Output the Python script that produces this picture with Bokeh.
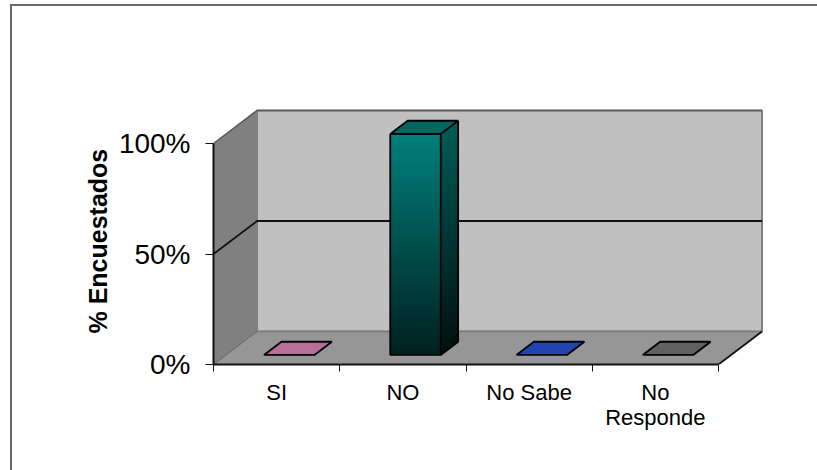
from bokeh.embed import file_html
from bokeh.models import FixedTicker, InlineStyleSheet, Range1d, Title
from bokeh.plotting import figure
from bokeh.resources import INLINE

categories = ["SI", "NO", "No Sabe", "No\nResponde"]
values = [0, 100, 0, 0]
top_colors = ["#B56F98", "#006660", "#2244B0", "#606060"]
y_ticks = [0, 50, 100]
y_title = "% Encuestados"

# Oblique projection of the chart box, in axis units
DEPTH_X = 0.3446
DEPTH_Y = 14.93
BAR_WIDTH = 0.40
BAR_FRONT = 0.29
BAR_BACK = 0.69
X_END = 4.0
Y_END = 100.0
PX_X = 126.25
PX_Y = 2.21

FRONT_TOP = (0, 128, 124)
FRONT_BOTTOM = (0, 32, 32)
SIDE_TOP = (0, 92, 88)
SIDE_BOTTOM = (0, 18, 18)


def hexcolor(a, b, t):
    return "#%02x%02x%02x" % tuple(round(p + (q - p) * t) for p, q in zip(a, b))


def proj(x, y, d):
    return x + DEPTH_X * d, y + DEPTH_Y * d


# Chart-area border as a page-level rule: open on the right and bottom
border_css = InlineStyleSheet(css="""
:host::after {
  content: ""; position: absolute; left: 10px; top: 4px; right: -20px; bottom: -20px;
  border-left: 2px solid #6a6a6a; border-top: 2px solid #6a6a6a;
  pointer-events: none; z-index: 5;
}
""")

p = figure(
    width=817, height=470, output_backend="svg", toolbar_location=None,
    x_range=Range1d(0, 552 / PX_X), y_range=Range1d(0, 259 / PX_Y),
    min_border_left=213, min_border_right=52, min_border_top=105, min_border_bottom=106,
    background_fill_color="white", border_fill_color="white", outline_line_color=None,
    stylesheets=[border_css],
)
p.grid.visible = False

# Walls and floor of the box
p.patch([0, DEPTH_X, DEPTH_X, 0], [0, DEPTH_Y, Y_END + DEPTH_Y, Y_END], fill_color="#808080", line_color=None)
p.patch([DEPTH_X, X_END + DEPTH_X, X_END + DEPTH_X, DEPTH_X],
        [DEPTH_Y, DEPTH_Y, Y_END + DEPTH_Y, Y_END + DEPTH_Y],
        fill_color="#C0C0C0", line_color="#808080", line_width=2)
p.patch([0, X_END, X_END + DEPTH_X, DEPTH_X], [0, 0, DEPTH_Y, DEPTH_Y], fill_color="#969696", line_color=None)

# Wall edges and the 50% gridline
p.line([0, DEPTH_X, X_END + DEPTH_X], [Y_END, Y_END + DEPTH_Y, Y_END + DEPTH_Y], line_color="#5a5a5a", line_width=1.5)
p.line([0, DEPTH_X], [0, DEPTH_Y], line_color="#606060", line_width=1)
p.line([DEPTH_X, X_END + DEPTH_X], [DEPTH_Y, DEPTH_Y], line_color="#7a7a7a", line_width=1.5)
p.line([0, DEPTH_X, X_END + DEPTH_X], [50, 50 + DEPTH_Y, 50 + DEPTH_Y], line_color="#111111", line_width=1.8)
p.line([X_END, X_END + DEPTH_X], [0, DEPTH_Y], line_color="#111111", line_width=1.8)

# Bars: shaded faces painted bottom-up, each slice reaching the bar top, then top face and outlines
for i, (v, color) in enumerate(zip(values, top_colors)):
    cx = i + 0.5
    x0 = cx - BAR_WIDTH / 2
    x1 = cx + BAR_WIDTH / 2
    fx0, fy0 = proj(x0, 0, BAR_FRONT)
    fx1, _ = proj(x1, 0, BAR_FRONT)
    bx1, by0 = proj(x1, 0, BAR_BACK)
    bx0, _ = proj(x0, 0, BAR_BACK)
    slices = int(v)
    for s in range(slices):
        t0 = s / slices
        lo = v * t0
        p.patch([fx0, fx1, fx1, fx0], [fy0 + lo, fy0 + lo, fy0 + v, fy0 + v],
                fill_color=hexcolor(FRONT_BOTTOM, FRONT_TOP, t0), line_color=None)
        p.patch([fx1, bx1, bx1, fx1], [fy0 + lo, by0 + lo, by0 + v, fy0 + v],
                fill_color=hexcolor(SIDE_BOTTOM, SIDE_TOP, t0), line_color=None)
    p.patch([fx0, fx1, bx1, bx0], [fy0 + v, fy0 + v, by0 + v, by0 + v], fill_color=color, line_color="black", line_width=1.8)
    if v > 0:
        p.line([fx0, fx0, fx1, fx1, fx0], [fy0 + v, fy0, fy0, fy0 + v, fy0 + v], line_color="black", line_width=1.8)
        p.line([fx1, bx1, bx1], [fy0, by0, by0 + v], line_color="black", line_width=1.8)

# Axes
xa = p.xaxis[0]
xa.bounds = (0, X_END)
xa.ticker = FixedTicker(ticks=[i + 0.5 for i in range(len(categories))], minor_ticks=list(range(len(categories) + 1)))
xa.major_label_overrides = {i + 0.5: c for i, c in enumerate(categories)}
xa.major_tick_line_color = None
xa.major_tick_out = 0
xa.major_tick_in = 0
xa.minor_tick_out = 7
xa.minor_tick_in = 0
xa.minor_tick_line_color = "#111111"
xa.axis_line_color = "#111111"
xa.axis_line_width = 2
xa.major_label_text_font = "Liberation Sans"
xa.major_label_text_font_size = "22px"
xa.major_label_text_color = "black"
xa.major_label_text_line_height = 1.0
xa.major_label_standoff = 8

ya = p.yaxis[0]
ya.bounds = (0, Y_END)
ya.ticker = FixedTicker(ticks=y_ticks)
ya.major_label_overrides = {t: f"{t}%" for t in y_ticks}
ya.minor_tick_line_color = None
ya.major_tick_out = 8
ya.major_tick_in = 0
ya.major_tick_line_color = "#111111"
ya.axis_line_color = "#111111"
ya.axis_line_width = 2
ya.major_label_text_font = "Liberation Sans"
ya.major_label_text_font_size = "28px"
ya.major_label_text_color = "black"
ya.major_label_standoff = 15

# Rotated value-axis title, measured up from the foot of the plot
p.add_layout(Title(text=y_title, align="left", offset=31, standoff=8,
                   text_font="Liberation Sans", text_font_style="bold",
                   text_font_size="25px", text_color="black"), "left")

open("out.html", "w").write(file_html(p, INLINE))
